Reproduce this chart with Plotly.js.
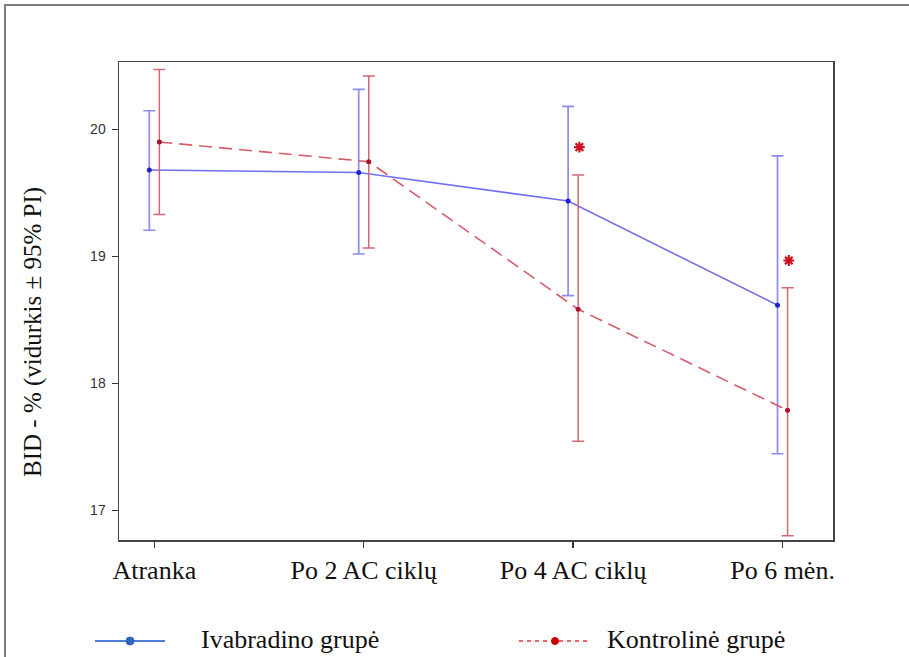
<!DOCTYPE html>
<html>
<head>
<meta charset="utf-8">
<script src="https://cdn.plot.ly/plotly-3.0.1.min.js"></script>
<style>
html,body{margin:0;padding:0;background:#fff;overflow:hidden;}
#wrap{position:relative;width:909px;height:657px;}
#chart{width:909px;height:657px;}
#frame{position:absolute;left:4px;top:4px;width:1000px;height:1000px;border-left:2px solid #7d7d7d;border-top:2px solid #7d7d7d;pointer-events:none;}
</style>
</head>
<body>
<div id="wrap"><div id="chart"></div><div id="frame"></div></div>
<script>
// Data
const categories = ["Atranka", "Po 2 AC ciklų", "Po 4 AC ciklų", "Po 6 mėn."];
const ivabMean  = [19.68, 19.66, 19.435, 18.615];
const ivabUpper = [20.146, 20.315, 20.18, 19.79];
const ivabLower = [19.205, 19.018, 18.69, 17.445];
const ctrlMean  = [19.90, 19.745, 18.583, 17.787];
const ctrlUpper = [20.47, 20.42, 19.64, 18.753];
const ctrlLower = [19.33, 19.065, 17.543, 16.80];
const significance = [null, null, 19.86, 18.967];
const yTicks = [17, 18, 19, 20];
const seriesNames = ["Ivabradino grupė", "Kontrolinė grupė"];

const idx = categories.map((c, i) => i);
const off = 0.024;
const xIvab = idx.map(i => i - off);
const xCtrl = idx.map(i => i + off);

const blueLine = 'rgb(112,112,245)';
const blueErr = 'rgb(140,140,240)';
const redLine = 'rgb(214,92,104)';
const redErr = 'rgb(212,104,114)';

const traces = [
  {
    x: xIvab, y: ivabMean, type: 'scatter', mode: 'lines+markers', name: seriesNames[0],
    line: {color: blueLine, width: 1.6},
    marker: {color: '#2222cc', size: 5},
    error_y: {type: 'data', symmetric: false,
      array: ivabUpper.map((u, i) => u - ivabMean[i]),
      arrayminus: ivabLower.map((l, i) => ivabMean[i] - l),
      color: blueErr, thickness: 1.7, width: 6},
    showlegend: false, hoverinfo: 'skip'
  },
  {
    x: xCtrl, y: ctrlMean, type: 'scatter', mode: 'lines+markers', name: seriesNames[1],
    line: {color: redLine, width: 1.6, dash: '13px,7px'},
    marker: {color: '#b0102a', size: 5},
    error_y: {type: 'data', symmetric: false,
      array: ctrlUpper.map((u, i) => u - ctrlMean[i]),
      arrayminus: ctrlLower.map((l, i) => ctrlMean[i] - l),
      color: redErr, thickness: 1.5, width: 6},
    showlegend: false, hoverinfo: 'skip'
  },
  {
    x: xCtrl.map(v => v + 0.006), y: significance, type: 'scatter', mode: 'markers',
    marker: {symbol: 'asterisk', size: 9, color: '#cc1020', line: {color: '#cc1020', width: 2.2}},
    showlegend: false, hoverinfo: 'skip'
  }
];

// legend geometry in paper coords (plot: x 119..833, y 62..540)
const L = 119, W = 714, T = 62, H = 478;
const px = v => (v - L) / W;
const py = v => (T + H - v) / H;
const legY = 641;

const layout = {
  width: 909, height: 657,
  margin: {l: L, r: 909 - L - W, t: T, b: 657 - T - H, pad: 0},
  paper_bgcolor: '#fff', plot_bgcolor: '#fff',
  showlegend: false,
  xaxis: {
    range: [-0.1687, 3.241], tickvals: idx, ticktext: categories,
    ticks: 'outside', ticklen: 6, tickwidth: 1.5, tickcolor: '#333',
    showgrid: false, zeroline: false, showline: true, linecolor: '#444', linewidth: 1.5, mirror: true,
    tickfont: {family: 'Liberation Serif, Times New Roman, serif', size: 26, color: '#111'},
    fixedrange: true
  },
  yaxis: {
    range: [16.766, 20.530], tickvals: yTicks, ticktext: yTicks.map(String),
    ticks: 'outside', ticklen: 6, tickwidth: 1.5, tickcolor: '#333',
    showgrid: false, zeroline: false, showline: true, linecolor: '#444', linewidth: 1.5, mirror: true,
    tickfont: {family: 'Liberation Sans, Arial, sans-serif', size: 14, color: '#333'},
    ticklabelstandoff: 3,
    fixedrange: true
  },
  shapes: [
    {type: 'line', xref: 'paper', yref: 'paper', x0: px(95), x1: px(165), y0: py(legY), y1: py(legY),
     line: {color: 'rgb(80,125,215)', width: 2}},
    {type: 'circle', xref: 'paper', yref: 'paper', xsizemode: 'pixel', ysizemode: 'pixel',
     xanchor: px(130), yanchor: py(legY), x0: -4, x1: 4, y0: -4, y1: 4,
     fillcolor: 'rgb(50,100,195)', line: {color: 'rgb(50,100,195)', width: 1}},
    {type: 'line', xref: 'paper', yref: 'paper', x0: px(519), x1: px(591), y0: py(legY), y1: py(legY),
     line: {color: 'rgb(225,50,50)', width: 1.5, dash: '4px,4px'}},
    {type: 'circle', xref: 'paper', yref: 'paper', xsizemode: 'pixel', ysizemode: 'pixel',
     xanchor: px(555), yanchor: py(legY), x0: -3.5, x1: 3.5, y0: -3.5, y1: 3.5,
     fillcolor: 'rgb(205,0,0)', line: {color: 'rgb(205,0,0)', width: 1}}
  ],
  annotations: [
    {text: 'BID - % (vidurkis ± 95% PI)', textangle: -90, xref: 'paper', yref: 'paper',
     x: px(33), y: py(332), xanchor: 'center', yanchor: 'middle', showarrow: false,
     font: {family: 'Liberation Serif, Times New Roman, serif', size: 25, color: '#111'}},
    {text: seriesNames[0], xref: 'paper', yref: 'paper', x: px(199), y: py(legY - 2),
     xanchor: 'left', yanchor: 'middle', showarrow: false,
     font: {family: 'Liberation Serif, Times New Roman, serif', size: 26, color: '#111'}},
    {text: seriesNames[1], xref: 'paper', yref: 'paper', x: px(605), y: py(legY - 2),
     xanchor: 'left', yanchor: 'middle', showarrow: false,
     font: {family: 'Liberation Serif, Times New Roman, serif', size: 26, color: '#111'}}
  ]
};

Plotly.newPlot('chart', traces, layout, {staticPlot: true, displayModeBar: false});
</script>
</body>
</html>
